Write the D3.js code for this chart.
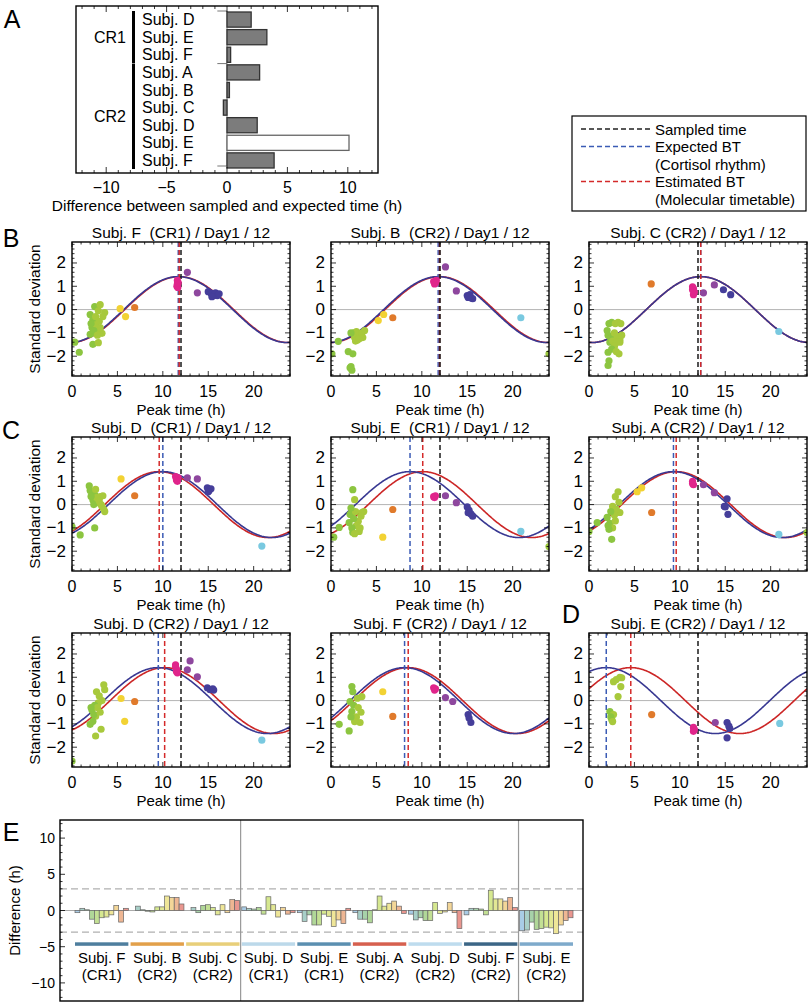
<!DOCTYPE html>
<html><head><meta charset="utf-8">
<script src="https://cdn.jsdelivr.net/npm/d3@7"></script>
<style>body{margin:0;background:#fff} svg{font-family:"Liberation Sans",Arial,Helvetica,sans-serif} text{white-space:pre}</style>
</head><body><svg id="c" width="810" height="1003"></svg>
<script>
// ---------------- DATA ----------------
// Panel A
const aSubjects = ["Subj. D","Subj. E","Subj. F","Subj. A","Subj. B","Subj. C","Subj. D","Subj. E","Subj. F"];
const aGroupOf = ["CR1","CR1","CR1","CR2","CR2","CR2","CR2","CR2","CR2"];
const aDiff = [2.0, 3.3, 0.3, 2.7, 0.2, -0.3, 2.5, 10.1, 3.9];
const aOutlier = [false,false,false,false,false,false,false,true,false];
const aTicks = [-10,-5,0,5,10];

// Legend
const legendItems = ["Sampled time","Expected BT","(Cortisol rhythm)","Estimated BT","(Molecular timetable)"];

// Scatter panels
const panelTitles = ["Subj. F  (CR1) / Day1 / 12","Subj. B  (CR2) / Day1 / 12","Subj. C (CR2) / Day1 / 12",
  "Subj. D  (CR1) / Day1 / 12","Subj. E  (CR1) / Day1 / 12","Subj. A (CR2) / Day1 / 12",
  "Subj. D (CR2) / Day1 / 12","Subj. F (CR2) / Day1 / 12","Subj. E (CR2) / Day1 / 12"];
const sampledTime = 12;
const expectedBT = [11.7, 11.8, 12.3, 10.0, 8.7, 9.3, 9.5, 8.1, 1.9];
const estimatedBT = [11.8, 11.95, 12.3, 9.6, 10.1, 9.6, 10.2, 8.5, 4.6];
const curveAmplitude = 1.414;
const xTicks = [0,5,10,15,20];
const yTicks = [-2,-1,0,1,2];

const ptsFCR1 = [[0.3,-1.4],[0.8,-1.83],[2.3,-1.49],[2.9,-1.42],[2.0,-1.06],[2.3,-1.0],[3.3,-1.02],[2.7,-0.85],[3.1,-0.77],[2.2,-0.77],[2.5,-0.55],[2.3,-0.43],[2.0,-0.21],[3.6,-0.13],[2.5,0.13],[3.1,0.21],[2.6,-0.65],[2.4,-0.9],[2.8,-1.1],[3.0,-0.5],[2.1,-0.6],[3.4,-0.3],[2.6,-0.3],[2.9,-0.05],
  [5.3,0.04],[5.9,-0.3],[6.9,0.09],[11.6,1.25],[11.6,1.1],[11.55,1.0],[11.65,0.95],[11.7,1.15],[12.7,1.6],[13.8,0.72],
  [15.0,0.77],[15.3,0.7],[15.6,0.6],[15.8,0.72],[16.0,0.6],[15.4,0.55],[16.2,0.68]];
const ptsBCR2 = [[0.1,-1.9],[0.8,-1.36],[1.9,-1.8],[2.4,-1.9],[2.1,-2.5],[2.3,-2.6],[2.2,-2.45],[2.5,-1.0],[2.8,-0.95],[3.0,-1.05],[2.6,-1.2],[3.2,-1.1],[2.9,-1.3],[3.4,-1.0],[3.7,-0.9],[2.7,-1.35],[3.1,-1.25],[2.2,-1.0],[3.5,-1.2],
  [5.2,-0.47],[5.8,-0.21],[6.8,-0.35],[11.3,1.2],[11.5,1.15],[11.6,1.25],[11.4,1.1],[12.6,1.83],[13.8,0.8],
  [15.0,0.6],[15.2,0.55],[15.4,0.5],[15.6,0.47],[15.3,0.64],[15.1,0.52],[20.9,-0.35],[24.0,-1.9]];
const ptsCCR2 = [[2.0,-0.9],[2.2,-0.6],[2.5,-0.55],[2.9,-0.6],[3.2,-0.55],[3.5,-0.6],[2.1,-1.1],[2.4,-1.2],[2.8,-1.0],[3.1,-1.15],[3.4,-1.3],[3.6,-1.1],[2.3,-1.4],[2.6,-1.35],[3.0,-1.4],[2.1,-1.83],[2.2,-2.2],[2.1,-2.4],[2.8,-1.57],[3.3,-1.9],[3.4,-1.4],[2.5,-1.7],[3.0,-1.8],
  [6.85,1.1],[11.4,0.98],[11.5,0.9],[11.6,0.75],[11.5,0.64],[11.4,0.85],[12.6,0.72],[13.8,1.06],[14.8,0.85],[15.6,0.64],[20.9,-0.94]];
const ptsDCR1 = [[0.0,-0.95],[0.9,-1.3],[2.5,-1.0],[1.9,0.8],[2.2,0.55],[2.5,0.42],[2.3,0.2],[3.1,0.34],[3.4,0.38],[2.9,0.08],[3.3,-0.08],[3.6,-0.3],[2.0,0.6],[2.4,0.0],[2.7,0.3],[3.0,0.15],[2.1,0.35],[2.6,0.65],[3.2,0.0],[3.5,-0.2],
  [5.4,1.1],[6.9,0.38],[11.4,1.2],[11.5,1.1],[11.6,1.0],[11.7,1.15],[11.5,1.05],[12.7,1.15],[13.8,1.1],
  [14.9,0.72],[15.1,0.6],[15.3,0.68],[15.0,0.55],[20.9,-1.78]];
const ptsECR1 = [[0.3,-1.4],[0.9,-0.98],[2.2,-0.43],[2.4,-1.2],[3.1,-1.15],[3.6,-0.3],[3.0,-0.72],[2.0,-0.77],[2.4,0.64],[2.6,0.21],[2.1,-0.42],[3.4,-0.34],[2.5,-0.6],[2.8,-0.9],[3.3,-0.5],[2.3,-1.0],[2.7,-0.3],[3.2,-1.0],[2.6,-1.25],[2.2,-0.15],
  [5.7,-1.4],[6.8,-0.21],[11.3,0.34],[11.5,0.38],[11.4,0.3],[12.6,0.38],[13.8,0.08],
  [15.0,-0.1],[15.2,-0.25],[15.4,-0.4],[15.6,-0.5],[15.1,-0.35],[20.9,-1.15],[24.0,-1.8]];
const ptsACR2 = [[0.0,-1.15],[0.9,-0.77],[3.2,0.55],[2.9,0.34],[2.6,-0.08],[3.4,-0.34],[2.0,-0.55],[2.3,-0.8],[2.6,-1.0],[2.9,-0.7],[2.5,-1.49],[2.2,-1.06],[3.0,-0.2],[2.8,-0.45],[2.4,-0.3],[3.3,0.1],[2.1,-0.9],
  [5.3,0.55],[5.8,0.72],[6.9,-0.34],[11.4,1.0],[11.5,0.85],[11.4,0.9],[12.6,0.85],[13.8,0.51],
  [15.2,0.25],[14.9,-0.08],[15.3,-0.42],[15.0,-0.1],[20.9,-1.28],[24.0,-1.2]];
const ptsDCR2 = [[0.0,-2.6],[2.6,-0.67],[2.3,-0.89],[2.0,-1.02],[3.2,-1.23],[2.6,-1.52],[2.7,0.38],[3.5,0.68],[3.6,0.47],[2.9,-0.1],[2.2,-0.4],[2.5,-0.2],[3.0,0.2],[3.3,0.0],[2.4,-0.6],[2.8,-0.3],[3.1,-0.5],[2.1,-0.3],
  [5.4,0.09],[5.8,-0.89],[6.9,-0.04],[11.4,1.53],[11.5,1.35],[11.6,1.19],[11.5,1.25],[11.4,1.45],[12.7,1.32],[13.0,1.7],[13.8,1.02],
  [14.9,0.55],[15.2,0.47],[15.5,0.5],[15.6,0.45],[20.9,-1.7]];
const ptsFCR2 = [[0.9,-1.02],[2.3,0.6],[2.4,0.38],[3.4,0.17],[2.1,-0.04],[2.3,-0.47],[2.8,-0.7],[3.2,-0.94],[2.5,-0.2],[3.0,-0.3],[2.6,-0.9],[2.2,-0.7],[3.3,-0.5],[2.9,0.1],[2.0,-1.3],
  [5.7,0.38],[6.8,-0.68],[11.3,0.55],[11.4,0.45],[11.5,0.5],[12.6,0.13],[13.4,-0.04],[15.1,-0.6],[15.4,-0.94],[15.2,-0.75]];
const ptsECR2 = [[2.7,0.81],[3.4,1.0],[3.6,0.98],[3.5,0.6],[3.2,0.17],[2.3,-0.47],[2.5,-0.81],[2.7,-0.6],[2.4,-0.7],[2.6,-0.9],[3.0,0.9],
  [6.9,-0.6],[11.5,-1.15],[11.5,-1.32],[11.6,-1.25],[13.9,-0.94],[15.2,-0.94],[15.5,-1.2],[15.2,-1.6],[15.4,-1.1],[21.0,-0.98]];
const panelPoints = [ptsFCR1, ptsBCR2, ptsCCR2, ptsDCR1, ptsECR1, ptsACR2, ptsDCR2, ptsFCR2, ptsECR2];

// Panel E
const eSubjects = ["Subj. F","Subj. B","Subj. C","Subj. D","Subj. E","Subj. A","Subj. D","Subj. F","Subj. E"];
const eCR = ["(CR1)","(CR2)","(CR2)","(CR1)","(CR1)","(CR2)","(CR2)","(CR2)","(CR2)"];
const eDiffs = [
  [-0.3, 0.3, 0.1, -1.2, -1.8, -1.0, -0.9, -0.6, 0.7, -1.6, 0.3],
  [0.0, 0.6, 0.1, -0.1, -0.2, 0.5, 0.5, 2.0, 1.8, 1.8, 0.9],
  [0.0, 0.4, -0.3, 0.7, 0.8, 0.4, -0.6, 0.8, -0.3, 1.5, 1.4],
  [0.5, 0.3, 0.2, 0.4, -0.5, 1.9, 0.8, -0.9, 0.4, -0.5, -0.3],
  [-0.3, -1.5, -0.6, -2.0, -2.0, -0.5, -0.8, -2.2, -1.3, -1.8, 0.3],
  [-0.3, -1.2, -1.2, -1.7, 0.1, 2.0, 0.6, 1.0, 1.3, 0.6, -0.4],
  [-0.5, -1.3, -1.0, -1.4, -1.4, 1.1, -0.4, -0.2, 1.1, -0.3, -2.5],
  [-0.6, 0.3, 0.3, 0.2, -0.6, 2.8, 1.6, 1.6, 1.3, 1.8, 0.4],
  [-2.8, -2.7, -1.6, -2.6, -2.5, -2.3, -2.4, -3.2, -2.0, -1.4, -1.0]];
const eThreshold = 3;
const eTicks = [-10,-5,0,5,10];

// ---------------- DRAWING ----------------
const svg = d3.select("#c");
const fmt = d => d < 0 ? "\u2212" + Math.abs(d) : String(d);
const FONT = 15;

function letter(t, x, y){ svg.append("text").attr("x",x).attr("y",y).attr("font-size",25).attr("text-anchor","middle").attr("dominant-baseline","central").text(t); }

// ---- Panel A ----
(function(){
  const L=76,R=378,T=6,B=173;
  const x = d3.scaleLinear().domain([-12.5,12.5]).range([L,R]);
  const y = d3.scaleBand().domain(d3.range(aSubjects.length)).range([12,168]).paddingInner(0.14);
  const g = svg.append("g");
  g.append("line").attr("x1",x(0)).attr("x2",x(0)).attr("y1",11).attr("y2",166).attr("stroke","#666").attr("stroke-width",0.8);
  [11, (y(2)+y.bandwidth()+y(3))/2, 166].forEach(v=>g.append("line").attr("x1",x(-0.8)).attr("x2",x(0)).attr("y1",v).attr("y2",v).attr("stroke","#555").attr("stroke-width",0.8));
  g.selectAll("rect.bar").data(aDiff).join("rect").attr("class","bar")
    .attr("x",d=>x(Math.min(0,d))).attr("width",d=>Math.abs(x(d)-x(0)))
    .attr("y",(d,i)=>y(i)).attr("height",y.bandwidth())
    .attr("fill",(d,i)=>aOutlier[i]?"#fff":"#7c7c7c").attr("stroke",(d,i)=>aOutlier[i]?"#666":"#333").attr("stroke-width",1.3);
  g.append("rect").attr("x",L).attr("y",T).attr("width",R-L).attr("height",B-T).attr("fill","none").attr("stroke","#000").attr("stroke-width",1.4);
  d3.range(-12,13).forEach(v=>{
    const len = v%5===0?6:3;
    g.append("line").attr("x1",x(v)).attr("x2",x(v)).attr("y1",B).attr("y2",B-len).attr("stroke","#000").attr("stroke-width",0.8);
    g.append("line").attr("x1",x(v)).attr("x2",x(v)).attr("y1",T).attr("y2",T+len).attr("stroke","#000").attr("stroke-width",0.8);
  });
  aTicks.forEach(v=>g.append("text").attr("x",x(v)).attr("y",187).attr("font-size",16).attr("text-anchor","middle").attr("dominant-baseline","central").text(fmt(v)));
  g.append("text").attr("x",x(0)).attr("y",205).attr("font-size",15.5).attr("text-anchor","middle").attr("dominant-baseline","central").text("Difference between sampled and expected time (h)");
  g.selectAll("text.lab").data(aSubjects).join("text").attr("class","lab").attr("x",142).attr("y",(d,i)=>y(i)+y.bandwidth()/2)
    .attr("font-size",16).attr("dominant-baseline","central").text(d=>d);
  ["CR1","CR2"].forEach(grp=>{
    const idx = aGroupOf.map((g,i)=>g===grp?i:-1).filter(i=>i>=0);
    const y0 = y(idx[0])-1, y1 = y(idx[idx.length-1])+y.bandwidth()+1;
    g.append("rect").attr("x",132).attr("y",y0).attr("width",3).attr("height",y1-y0).attr("fill","#000");
    g.append("text").attr("x",126).attr("y",(y0+y1)/2).attr("font-size",16).attr("text-anchor","end").attr("dominant-baseline","central").text(grp);
  });
  letter("A",12,19);
})();

// ---- Legend ----
(function(){
  const L=572,R=806,T=116,B=211;
  const g = svg.append("g");
  g.append("rect").attr("x",L).attr("y",T).attr("width",R-L).attr("height",B-T).attr("fill","#fff").attr("stroke","#000").attr("stroke-width",1.2);
  const ly = d3.scalePoint().domain(d3.range(legendItems.length)).range([129,199]);
  const cols = ["#222","#3b5bb5",null,"#d42a2a",null];
  legendItems.forEach((t,i)=>{
    if(cols[i]) g.append("line").attr("x1",581).attr("x2",651).attr("y1",ly(i)).attr("y2",ly(i)).attr("stroke",cols[i]).attr("stroke-width",1.3).attr("stroke-dasharray","5,3");
    g.append("text").attr("x",655).attr("y",ly(i)).attr("font-size",FONT).attr("dominant-baseline","central").text(t);
  });
})();

// ---- Scatter panels ----
const colLefts = [72,331,589], rowTops = [242,437,633], PW = 218, PH = 134;
const ptColor = d3.scaleThreshold().domain([2.6,4.5,6.3,9,12.3,14.4,18,23])
  .range(["#8cc540","#a8c93c","#f2d233","#e07a2b","#e0258b","#8e479e","#453e9a","#79c9e0","#9cc83e"]);

panelTitles.forEach((title,i)=>{
  const col=i%3,row=Math.floor(i/3);
  const L=colLefts[col],T=rowTops[row],R=L+PW,B=T+PH;
  const x=d3.scaleLinear().domain([0,24]).range([L,R]);
  const y=d3.scaleLinear().domain([-2.85,2.9]).range([B,T]);
  const g=svg.append("g");
  const cid="clip"+i;
  g.append("clipPath").attr("id",cid).append("rect").attr("x",L).attr("y",T).attr("width",PW).attr("height",PH);
  const inner=g.append("g").attr("clip-path",`url(#${cid})`);
  inner.append("line").attr("x1",L).attr("x2",R).attr("y1",y(0)).attr("y2",y(0)).attr("stroke","#b5b5b5").attr("stroke-width",1);
  const ts=d3.range(0,24.01,0.1);
  const line=peak=>d3.line().x(t=>x(t)).y(t=>y(curveAmplitude*Math.cos(2*Math.PI*(t-peak)/24)))(ts);
  inner.append("path").attr("d",line(estimatedBT[i])).attr("fill","none").attr("stroke","#cc2626").attr("stroke-width",1.6);
  inner.append("path").attr("d",line(expectedBT[i])).attr("fill","none").attr("stroke","#383892").attr("stroke-width",1.6);
  [[expectedBT[i],"#3b5bb5"],[estimatedBT[i],"#d42a2a"],[sampledTime,"#1a1a1a"]].forEach(([v,c])=>{
    inner.append("line").attr("x1",x(v)).attr("x2",x(v)).attr("y1",T).attr("y2",B).attr("stroke",c).attr("stroke-width",1.5).attr("stroke-dasharray","5,3");
  });
  inner.selectAll("circle").data(panelPoints[i]).join("circle").attr("cx",d=>x(d[0])).attr("cy",d=>y(d[1])).attr("r",3.6).attr("fill",d=>ptColor(d[0]));
  g.append("rect").attr("x",L).attr("y",T).attr("width",PW).attr("height",PH).attr("fill","none").attr("stroke","#000").attr("stroke-width",1.4);
  d3.range(0,25).forEach(v=>{
    const len=v%5===0?5:2.5;
    g.append("line").attr("x1",x(v)).attr("x2",x(v)).attr("y1",B).attr("y2",B-len).attr("stroke","#000").attr("stroke-width",0.8);
    g.append("line").attr("x1",x(v)).attr("x2",x(v)).attr("y1",T).attr("y2",T+len).attr("stroke","#000").attr("stroke-width",0.8);
  });
  d3.range(-28,29,2).forEach(k=>{
    const v=k/10; if(v<-2.85||v>2.9) return;
    const len=k%10===0?5:2.5;
    g.append("line").attr("x1",L).attr("x2",L+len).attr("y1",y(v)).attr("y2",y(v)).attr("stroke","#000").attr("stroke-width",0.8);
    g.append("line").attr("x1",R).attr("x2",R-len).attr("y1",y(v)).attr("y2",y(v)).attr("stroke","#000").attr("stroke-width",0.8);
  });
  xTicks.forEach(v=>g.append("text").attr("x",x(v)).attr("y",B+15).attr("font-size",16).attr("text-anchor","middle").attr("dominant-baseline","central").text(fmt(v)));
  yTicks.forEach(v=>g.append("text").attr("x",L-6).attr("y",y(v)).attr("font-size",17).attr("text-anchor","end").attr("dominant-baseline","central").text(fmt(v)));
  g.append("text").attr("x",(L+R)/2).attr("y",B+33).attr("font-size",15).attr("text-anchor","middle").attr("dominant-baseline","central").text("Peak time (h)");
  g.append("text").attr("x",(L+R)/2).attr("y",T-10).attr("font-size",15.5).attr("text-anchor","middle").attr("dominant-baseline","central").text(title);
  if(col===0) g.append("text").attr("transform",`translate(${L-38},${(T+B)/2}) rotate(-90)`).attr("font-size",15.5).attr("text-anchor","middle").attr("dominant-baseline","central").text("Standard deviation");
});
letter("B",11,238); letter("C",11,430); letter("D",571,614);

// ---- Panel E ----
(function(){
  const L=60,R=583,T=820,B=1001;
  const y=d3.scaleLinear().domain([-12.5,12.5]).range([B,T]);
  const xg=d3.scaleBand().domain(d3.range(eSubjects.length)).range([75,573]).paddingInner(0.04);
  const g=svg.append("g");
  const groupColors=["#4e7e9e","#e2a04a","#e8cf7a","#bcd9ea","#5b8fb0","#d6604f","#bedcee","#3c6686","#7eaacb"];
  const barColor=d3.scaleLinear().domain([0,2.5,5,7.5,10]).range(["#a9cce6","#a6d39a","#d6e890","#f5e69a","#e9968f"]);
  g.append("line").attr("x1",L).attr("x2",R).attr("y1",y(0)).attr("y2",y(0)).attr("stroke","#aaa").attr("stroke-width",1.2);
  [eThreshold,-eThreshold].forEach(v=>g.append("line").attr("x1",L).attr("x2",R).attr("y1",y(v)).attr("y2",y(v)).attr("stroke","#b0b0b0").attr("stroke-width",1.2).attr("stroke-dasharray","7,4"));
  eDiffs.forEach((arr,gi)=>{
    const xb=d3.scaleBand().domain(d3.range(arr.length)).range([xg(gi),xg(gi)+xg.bandwidth()]);
    g.selectAll(null).data(arr).join("rect")
      .attr("x",(d,j)=>xb(j)).attr("width",xb.bandwidth())
      .attr("y",d=>y(Math.max(0,d))).attr("height",d=>Math.abs(y(d)-y(0)))
      .attr("fill",(d,j)=>barColor(j)).attr("stroke","#666").attr("stroke-width",0.7);
    g.append("rect").attr("x",xg(gi)).attr("y",y(-4.6)-1.5).attr("width",xg.bandwidth()).attr("height",3.5).attr("fill",groupColors[gi]);
    g.append("text").attr("x",xg(gi)+xg.bandwidth()/2).attr("y",y(-4.6)+14).attr("font-size",15).attr("text-anchor","middle").attr("dominant-baseline","central").text(eSubjects[gi]);
    g.append("text").attr("x",xg(gi)+xg.bandwidth()/2).attr("y",y(-4.6)+31).attr("font-size",15).attr("text-anchor","middle").attr("dominant-baseline","central").text(eCR[gi]);
  });
  [3,8].forEach(gi=>{
    const xv=(xg(gi-1)+xg.bandwidth()+xg(gi))/2;
    g.append("line").attr("x1",xv).attr("x2",xv).attr("y1",T).attr("y2",B).attr("stroke","#999").attr("stroke-width",1.2);
  });
  g.append("rect").attr("x",L).attr("y",T).attr("width",R-L).attr("height",B-T).attr("fill","none").attr("stroke","#000").attr("stroke-width",1.4);
  d3.range(-12,13).forEach(v=>{
    const len=v%5===0?5:2.5;
    g.append("line").attr("x1",L).attr("x2",L+len).attr("y1",y(v)).attr("y2",y(v)).attr("stroke","#000").attr("stroke-width",0.8);
  });
  eTicks.forEach(v=>g.append("text").attr("x",L-5).attr("y",y(v)).attr("font-size",14).attr("text-anchor","end").attr("dominant-baseline","central").text(fmt(v)));
  g.append("text").attr("transform",`translate(14,${(T+B)/2}) rotate(-90)`).attr("font-size",15).attr("text-anchor","middle").attr("dominant-baseline","central").text("Difference (h)");
  letter("E",11,832);
})();
</script></body></html>
